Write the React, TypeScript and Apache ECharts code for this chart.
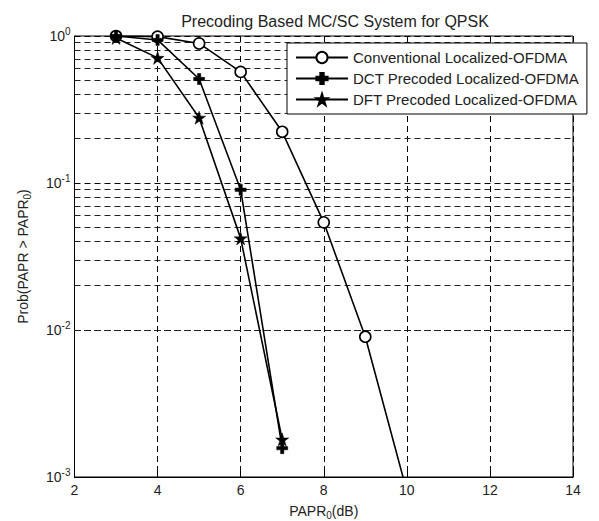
import React, { useEffect, useRef } from "react";
import * as echarts from "echarts";

const papr = [3, 4, 5, 6, 7, 8, 9, 10];
const conventional = [1.0, 0.99, 0.89, 0.57, 0.223, 0.054, 0.009, 0.0008];
const dctPapr = [3, 4, 5, 6, 7];
const dct = [1.0, 0.94, 0.51, 0.09, 0.00157];
const dftPapr = [3, 4, 5, 6, 7];
const dft = [0.97, 0.71, 0.278, 0.042, 0.0018];
const minorGrid = [
  0.002, 0.003, 0.004, 0.005, 0.006, 0.007, 0.008, 0.009,
  0.02, 0.03, 0.04, 0.05, 0.06, 0.07, 0.08, 0.09,
  0.2, 0.3, 0.4, 0.5, 0.6, 0.7, 0.8, 0.9,
];
const seriesNames = [
  "Conventional Localized-OFDMA",
  "DCT Precoded Localized-OFDMA",
  "DFT Precoded Localized-OFDMA",
];

const PLUS = "path://M3.5,0h3v3.5h3.5v3h-3.5v3.5h-3v-3.5h-3.5v-3h3.5z";
const STAR =
  "path://M50,0L61.8,35.5L99,35.5L68.9,57.4L80.4,92.9L50,71L19.6,92.9L31.1,57.4L1,35.5L38.2,35.5Z";

export default function App() {
  const ref = useRef<HTMLDivElement>(null);
  useEffect(() => {
    const chart = echarts.init(ref.current!, undefined, { renderer: "svg" });
    const font = "Liberation Sans, Arial, sans-serif";
    const dash = [6, 4];
    const lineStyle = { color: "#000", width: 1.6 };
    chart.setOption({
      animation: false,
      backgroundColor: "#fff",
      textStyle: { fontFamily: font },
      title: {
        text: "Precoding Based MC/SC System for QPSK",
        left: 322,
        textAlign: "center",
        top: 0,
        textStyle: { fontSize: 16, fontWeight: "normal", color: "#222", fontFamily: font },
      },
      grid: {
        left: 66,
        top: 28,
        width: 499,
        height: 441,
        show: true,
        borderColor: "#000",
        borderWidth: 1,
        backgroundColor: "#fff",
      },
      legend: {
        left: 279,
        top: 35,
        orient: "vertical",
        backgroundColor: "#fff",
        borderColor: "#000",
        borderWidth: 1,
        padding: [7, 8, 7, 8],
        itemGap: 6,
        itemWidth: 52,
        itemHeight: 14,
        textStyle: { fontSize: 15, color: "#222", fontFamily: font },
        data: seriesNames,
      },
      xAxis: {
        type: "value",
        min: 2,
        max: 14,
        interval: 2,
        name: "PAPR{sub|0}(dB)",
        nameLocation: "middle",
        nameGap: 24,
        nameTextStyle: {
          fontSize: 14,
          color: "#222",
          rich: { sub: { fontSize: 10, padding: [9, 0, 0, 0], color: "#222" } },
        },
        axisLine: { show: true, onZero: false, lineStyle: { color: "#000" } },
        axisTick: { show: true, inside: true, length: 5, lineStyle: { color: "#000" } },
        axisLabel: { fontSize: 14, color: "#222", margin: 6 },
        splitLine: { show: true, lineStyle: { color: "#000", type: dash, width: 1 } },
      },
      yAxis: {
        type: "log",
        logBase: 10,
        min: 0.001,
        max: 1,
        splitNumber: 3,
        name: "Prob(PAPR > PAPR{sub|0})",
        nameLocation: "middle",
        nameGap: 42,
        nameTextStyle: {
          fontSize: 14,
          color: "#222",
          rich: { sub: { fontSize: 10, padding: [9, 0, 0, 0], color: "#222" } },
        },
        axisLine: { show: true, lineStyle: { color: "#000" } },
        axisTick: { show: true, inside: true, length: 5, lineStyle: { color: "#000" } },
        axisLabel: {
          fontSize: 14,
          color: "#222",
          margin: 4,
          formatter: (v: number) => {
            const e = Math.round(Math.log10(v));
            return "10{sup|" + e + "}";
          },
          rich: { sup: { fontSize: 10, padding: [0, 0, 10, 0], color: "#222" } },
        },
        splitLine: { show: true, lineStyle: { color: "#000", type: dash, width: 1 } },
      },
      series: [
        {
          name: seriesNames[0],
          type: "line",
          data: papr.map((x, i) => [x, conventional[i]]),
          symbol: "circle",
          symbolSize: 11,
          showAllSymbol: true,
          lineStyle,
          itemStyle: { color: "#fff", borderColor: "#000", borderWidth: 1.6 },
          z: 5,
          markLine: {
            silent: true,
            symbol: "none",
            label: { show: false },
            lineStyle: { color: "#222", type: dash, width: 1 },
            data: minorGrid.map((v) => ({ yAxis: v })),
            z: 1,
          },
        },
        {
          name: seriesNames[1],
          type: "line",
          data: dctPapr.map((x, i) => [x, dct[i]]),
          symbol: PLUS,
          symbolSize: 11,
          lineStyle,
          itemStyle: { color: "#000", borderColor: "#000", borderWidth: 0.5 },
          z: 5,
        },
        {
          name: seriesNames[2],
          type: "line",
          data: dftPapr.map((x, i) => [x, dft[i]]),
          symbol: STAR,
          symbolSize: 13,
          lineStyle,
          itemStyle: { color: "#000", borderColor: "#000", borderWidth: 0.5 },
          z: 5,
        },
      ],
    });
    return () => chart.dispose();
  }, []);
  return <div ref={ref} style={{ width: 599, height: 521 }} />;
}
